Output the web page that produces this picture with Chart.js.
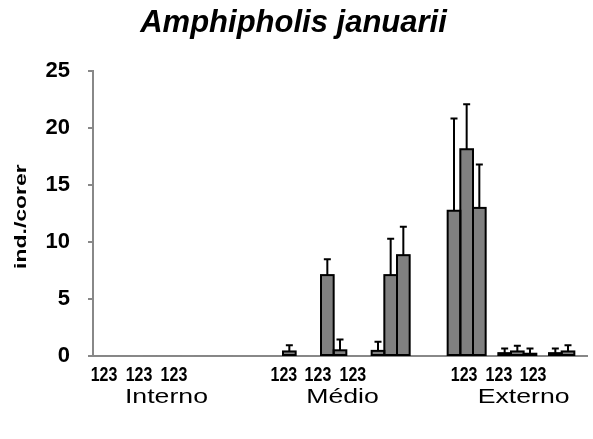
<!DOCTYPE html>
<html>
<head>
<meta charset="utf-8">
<script src="https://cdn.jsdelivr.net/npm/chart.js@4/dist/chart.umd.min.js"></script>
<style>
  html, body { margin: 0; padding: 0; background: #fff; }
  #wrap { width: 593px; height: 439px; }
</style>
</head>
<body>
<div id="wrap"><canvas id="c" width="593" height="439"></canvas></div>
<script>
// Zones along the gradient and the three stations sampled in each
const zones = ['Interno', 'Médio', 'Externo'];
const stations = ['1', '2', '3'];
// Sampling sites per zone (three sites, each with stations 1-3)
const sitesPerZone = 3;

// Mean density (ind./corer) per site, one array per station
const meanStation1 = [0, 0, 0,   0,    7.1,  0.45,  12.75, 0.25, 0.25];
const meanStation2 = [0, 0, 0,   0.4,  0.5,  7.1,   18.15, 0.4,  0.4];
const meanStation3 = [0, 0, 0,   0,    0,    8.85,  13.0,  0.2,  0];

// Standard deviation per site (upper whisker only)
const sdStation1 = [0, 0, 0,   0,    1.4,  0.8,   8.1,   0.4,  0.4];
const sdStation2 = [0, 0, 0,   0.55, 0.95, 3.2,   3.95,  0.5,  0.55];
const sdStation3 = [0, 0, 0,   0,    0,    2.5,   3.8,   0.45, 0];

// y-axis ticks
const yTicks = [0, 5, 10, 15, 20, 25];

// Build one slot per bar: three bars per site, a single empty slot between
// sites and three empty slots between zones.
const means = [meanStation1, meanStation2, meanStation3];
const sds = [sdStation1, sdStation2, sdStation3];
const slotLabels = [], slotValues = [], slotErrors = [];
function pushGap(n) { for (let i = 0; i < n; i++) { slotLabels.push(''); slotValues.push(null); slotErrors.push(null); } }
zones.forEach((z, zi) => {
  if (zi > 0) pushGap(3);
  for (let s = 0; s < sitesPerZone; s++) {
    if (s > 0) pushGap(1);
    const site = zi * sitesPerZone + s;
    stations.forEach((st, k) => {
      slotLabels.push(z + ' ' + (s + 1) + '-' + st);
      slotValues.push(means[k][site]);
      slotErrors.push(sds[k][site]);
    });
  }
});

// Text placement under the axis, in slot units from the left of the plot
const stationLabelSlots = [0.87, 3.63, 6.39, 15.07, 17.76, 20.52, 29.3, 32.05, 34.75];
const zoneLabelSlots = [5.8, 19.7, 34.0];

const FONT = '"Liberation Sans", Arial, sans-serif';
Chart.defaults.font.family = FONT;
Chart.defaults.color = '#000';

// Outlines and upper error whiskers for every non-zero bar
const barDecor = {
  id: 'barDecor',
  afterDatasetsDraw(chart) {
    const ctx = chart.ctx;
    const y = chart.scales.y;
    const meta = chart.getDatasetMeta(0);
    ctx.save();
    ctx.strokeStyle = '#000';
    ctx.lineWidth = 2;
    meta.data.forEach((el, i) => {
      const v = slotValues[i];
      if (!v) return;
      const w = el.width;
      ctx.strokeRect(el.x - w / 2, el.y, w, el.base - el.y);
    });
    meta.data.forEach((el, i) => {
      const v = slotValues[i], e = slotErrors[i];
      if (!v || !e) return;
      const top = y.getPixelForValue(v + e);
      ctx.beginPath();
      ctx.moveTo(el.x, el.y);
      ctx.lineTo(el.x, top);
      ctx.moveTo(el.x - 3.5, top);
      ctx.lineTo(el.x + 3.5, top);
      ctx.stroke();
    });
    ctx.restore();
  }
};

// Station numbers, zone names and the rotated y-axis title
const axisText = {
  id: 'axisText',
  afterDraw(chart) {
    const ctx = chart.ctx;
    const x = chart.scales.x;
    const y = chart.scales.y;
    const slotW = (x.right - x.left) / slotLabels.length;
    const at = s => x.left + s * slotW;
    ctx.save();
    ctx.fillStyle = '#000';
    ctx.textAlign = 'center';
    ctx.textBaseline = 'alphabetic';
    ctx.font = 'bold 20px ' + FONT;
    stationLabelSlots.forEach(s => {
      ctx.save();
      ctx.translate(at(s), 381);
      ctx.scale(0.8, 1);
      ctx.fillText(stations.join(''), 0, 0);
      ctx.restore();
    });
    ctx.font = '21px ' + FONT;
    zoneLabelSlots.forEach((s, i) => {
      ctx.save();
      ctx.translate(at(s), 403);
      ctx.scale(1.27, 1);
      ctx.fillText(zones[i], 0, 0);
      ctx.restore();
    });
    // y-axis title
    ctx.save();
    ctx.translate(26, (y.top + y.bottom) / 2 + 3);
    ctx.rotate(-Math.PI / 2);
    ctx.scale(1.35, 1);
    ctx.font = 'bold 17px ' + FONT;
    ctx.fillText('ind./corer', 0, 0);
    ctx.restore();
    ctx.restore();
  }
};

new Chart(document.getElementById('c'), {
  type: 'bar',
  data: {
    labels: slotLabels,
    datasets: [{
      data: slotValues,
      backgroundColor: '#808080',
      borderWidth: 0,
      barPercentage: 1,
      categoryPercentage: 1
    }]
  },
  options: {
    responsive: false,
    animation: false,
    events: [],
    layout: { padding: { left: 0, right: 6, top: 0, bottom: 0 } },
    plugins: {
      legend: { display: false },
      tooltip: { enabled: false },
      title: {
        display: true,
        text: 'Amphipholis januarii',
        color: '#000',
        font: { size: 31, weight: 'bold', style: 'italic', family: FONT },
        padding: { top: 5, bottom: 29 }
      }
    },
    scales: {
      x: {
        type: 'category',
        ticks: { display: false },
        grid: { display: false },
        border: { display: true, color: '#888', width: 2 },
        afterFit(scale) { scale.height = 83; }
      },
      y: {
        min: 0,
        max: 25,
        afterBuildTicks(scale) { scale.ticks = yTicks.map(v => ({ value: v })); },
        ticks: { font: { size: 22, weight: 'bold' }, padding: 18, color: '#000' },
        grid: { drawOnChartArea: false, drawTicks: true, tickLength: 5, color: '#888', lineWidth: 2 },
        border: { display: true, color: '#888', width: 2 },
        title: { display: false },
        afterFit(scale) { scale.width = 93; }
      }
    }
  },
  plugins: [barDecor, axisText]
});
</script>
</body>
</html>
